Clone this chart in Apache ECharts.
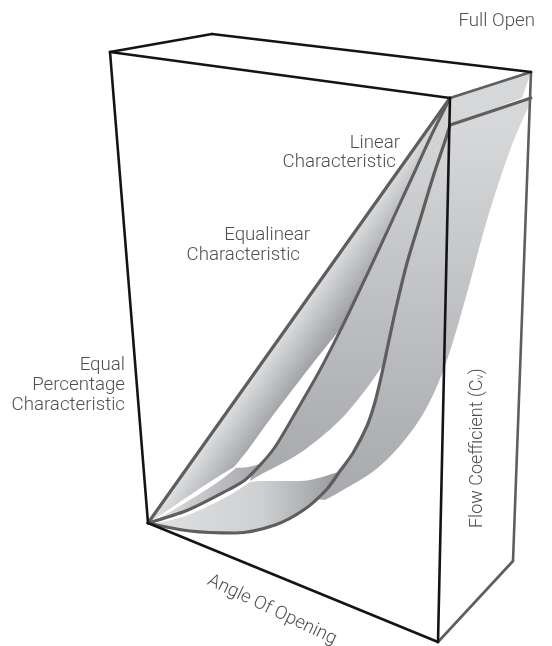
<!DOCTYPE html>
<html><head><meta charset="utf-8">
<style>html,body{margin:0;padding:0;background:#fff}#c{width:552px;height:646px}</style>
<script src="https://cdn.jsdelivr.net/npm/echarts@6/dist/echarts.min.js"></script>
</head><body><div id="c"></div>
<script>
// Values, in the picture's own units
const linearCurve = [[148,523],[450,98]];
const equalinearCurve = [[148,523],[188,510],[228,490],[245,480],[262,463],[275,447],[293,417],[320,370],[342,327],[355,300],[380,247],[397,210],[415,171],[432,134],[450,98]];
const equalPercentCurve = [[148,523],[190,531],[235,533],[275,525],[305,509],[327,489],[340,471],[353,453],[367,426],[375,402],[382,373],[388,345],[396,308],[407,263],[420,220],[433,177],[447,135],[450,125]];
const blackEdges = [
  [[110,52],[450,98]], [[110,52],[212,34]], [[212,34],[531,72]],
  [[110,52],[148,523]], [[148,523],[438,642]], [[450,98],[438,642]]
];
const grayEdges = [
  [[450,98],[531,72]], [[531,72],[513,561]], [[513,561],[438,642]], [[450,125],[531,98]]
];
const ribbonALowerUp = [[342,327],[310,367],[277,410],[260,433],[247,451],[234,467]];
const ribbonALowerDown = [[234,467],[205,485],[165,512],[150,522]];
const ribbonSliverUpper = [[151,523],[165,515],[212,486],[235,469]];
const ribbonSliverTop = [[235,468],[248,467],[260,464]];
const ribbonBBack = [[381,368],[363,393],[337,423],[300,453],[260,475],[250,481]];
const ribbonCRise = [[152,524],[188,515],[228,496],[250,482]];
const ribbonCTop = [[250,482],[262,481],[285,481],[310,480],[338,472]];
const ribbonDBack = [[530,103],[510,150],[487,220],[467,293],[447,360],[427,407],[403,442],[375,470],[343,490],[325,500]];
const ribbonTopBand = [[450,98],[531,72],[522,98],[450,125]];

const labels = [
  {t:'Full Open', x:535, y:21, a:'right'},
  {t:'Linear', x:400, y:143, a:'right'},
  {t:'Characteristic', x:396, y:162, a:'right'},
  {t:'Equalinear', x:310, y:235, a:'right'},
  {t:'Characteristic', x:300, y:255, a:'right'},
  {t:'Equal', x:125, y:365, a:'right'},
  {t:'Percentage', x:125, y:385, a:'right'},
  {t:'Characteristic', x:125, y:405, a:'right'}
];

// Smooths an edge (Catmull-Rom) for the filled ribbons
function sm(p){
  if(p.length<3) return p;
  const o=[];
  for(let i=0;i<p.length-1;i++){
    const a=p[Math.max(i-1,0)],b=p[i],c=p[i+1],d=p[Math.min(i+2,p.length-1)];
    for(let k=0;k<8;k++){
      const t=k/8,t2=t*t,t3=t2*t;
      o.push([0,1].map(j=>0.5*(2*b[j]+(c[j]-a[j])*t+(2*a[j]-5*b[j]+4*c[j]-d[j])*t2+(3*b[j]-a[j]-3*c[j]+d[j])*t3)));
    }
  }
  o.push(p[p.length-1]);
  return o;
}
const grad=(x,y,x2,y2,st)=>({type:'linear',global:true,x,y,x2,y2,colorStops:st.map(s=>({offset:s[0],color:s[1]}))});
const eqSm=sm(equalinearCurve), epSm=sm(equalPercentCurve);
const vert=grad(0,130,0,510,[[0,'#d6d7d9'],[1,'#a7a8ab']]);
const ribbons=[
  // far ribbon behind the equal-percentage curve
  {pts:[...epSm.filter(p=>p[1]<=500&&p[0]>315),[531,98],...sm(ribbonDBack)],fill:vert},
  {pts:ribbonTopBand,fill:'#d6d7d9'},
  // ribbon between equalinear and equal-percentage
  {pts:[...eqSm.filter(p=>p[0]>=250),...epSm.slice().reverse().filter(p=>p[1]<=368&&p[0]>380),...sm(ribbonBBack)],fill:grad(0,150,0,480,[[0,'#d2d3d5'],[1,'#a8a9ac']])},
  // sliver at the start of that ribbon
  {pts:[...sm(ribbonSliverUpper),...sm(ribbonSliverTop),...eqSm.filter(p=>p[0]<=260).reverse()],fill:grad(150,0,258,0,[[0,'#e2e3e5'],[1,'#a6a7aa']])},
  // ribbon C under the equal-percentage curve
  {pts:[...sm(ribbonCRise),...sm(ribbonCTop),...epSm.filter(p=>p[0]<=338).reverse()],fill:grad(160,0,345,0,[[0,'#dedfe1'],[0.55,'#cfd0d2'],[1,'#949598']])},
  // ribbon A under the straight line
  {pts:[[450,98],[148,523],...sm(ribbonALowerDown).reverse(),...sm(ribbonALowerUp).reverse(),...eqSm.filter(p=>p[0]>=342)],fill:grad(285,330,318,353,[[0,'#dddee0'],[1,'#a3a4a7']])}
];

const lineS=(d,color,w,z,smooth)=>({type:'line',data:d,symbol:'none',smooth:smooth||false,clip:false,silent:true,z,
  lineStyle:{color,width:w,cap:'round',join:'round'}});

const chart=echarts.init(document.getElementById('c'),null,{renderer:'canvas'});
chart.setOption({
  animation:false,
  backgroundColor:'#fff',
  grid:{left:0,right:0,top:0,bottom:0},
  xAxis:{type:'value',min:0,max:552,show:false},
  yAxis:{type:'value',min:0,max:646,inverse:true,show:false},
  series:[
    {type:'custom',coordinateSystem:'cartesian2d',z:1,silent:true,clip:false,
     data:ribbons.map((r,i)=>[i]),
     renderItem:(p,api)=>{
       const r=ribbons[api.value(0)];
       return {type:'polygon',shape:{points:r.pts.map(q=>api.coord(q))},style:{fill:r.fill}};
     }},
    ...blackEdges.map(e=>lineS(e,'#141414',2.6,5)),
    ...grayEdges.map((e,i)=>lineS(e,'#5e5e5f',i==3?3:2.6,4)),
    lineS(linearCurve,'#5e5e5f',3.2,3),
    lineS(equalinearCurve,'#5e5e5f',3,3,0.3),
    lineS(equalPercentCurve,'#5e5e5f',3.2,3,0.3)
  ],
  graphic:[
    ...labels.map(l=>({type:'text',x:l.x,y:l.y,z:10,style:{text:l.t,fill:'#4f4f50',font:'300 18.7px Roboto',align:l.a,verticalAlign:'middle'}})),
    {type:'text',x:272,y:610,rotation:-25.5*Math.PI/180,z:10,style:{text:'Angle Of Opening',fill:'#4f4f50',font:'300 18.5px Roboto',align:'center',verticalAlign:'middle'}},
    {type:'text',x:477,y:528,rotation:Math.PI/2,z:10,style:{text:'Flow Coefficient (C{s|v})',rich:{s:{font:'300 11px Roboto',fill:'#4f4f50',verticalAlign:'bottom',padding:[7,0,0,0]}},fill:'#4f4f50',font:'300 18px Roboto',align:'left',verticalAlign:'middle'}}
  ]
});
</script></body></html>
